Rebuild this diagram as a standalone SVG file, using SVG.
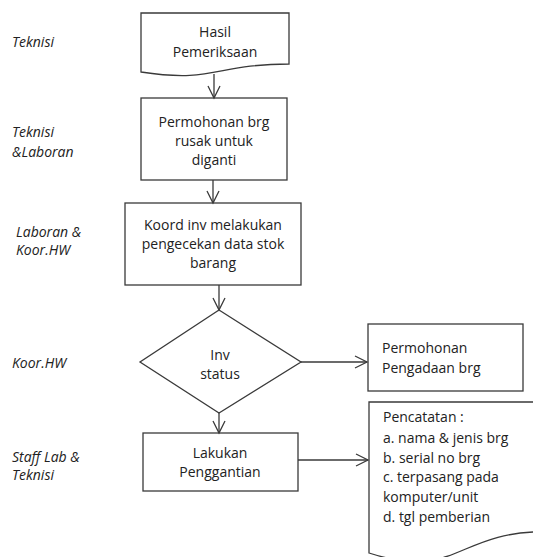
<svg xmlns="http://www.w3.org/2000/svg" width="533" height="557" viewBox="0 0 533 557">
  <defs>
    <marker id="arrow" markerUnits="userSpaceOnUse" markerWidth="16" markerHeight="16" refX="12" refY="6" orient="auto" overflow="visible">
      <path d="M0,0 L12,6 L0,12" fill="none" stroke="#3a3a3a" stroke-width="1.3"/>
    </marker>
  </defs>
  <style>
    .shape { fill: #ffffff; stroke: #3a3a3a; stroke-width: 1.3; }
    .link { fill: none; stroke: #3a3a3a; stroke-width: 1.3; marker-end: url(#arrow); }
    .t { font-family: "Open Sans", "Liberation Sans", sans-serif; font-size: 14px; fill: #222222; }
    .c { text-anchor: middle; }
    .role { font-family: "Open Sans", "Liberation Sans", sans-serif; font-size: 14px; font-style: italic; fill: #222222; }
  </style>
  <rect width="533" height="557" fill="#ffffff"/>

  <!-- role column -->
  <g id="roles">
    <text class="role" x="12" y="47">Teknisi</text>
    <text class="role" x="12" y="137">Teknisi</text>
    <text class="role" x="12" y="157">&amp;Laboran</text>
    <text class="role" x="16" y="237">Laboran &amp;</text>
    <text class="role" x="16" y="255">Koor.HW</text>
    <text class="role" x="12" y="368">Koor.HW</text>
    <text class="role" x="12" y="462">Staff Lab &amp;</text>
    <text class="role" x="12" y="480">Teknisi</text>
  </g>

  <g id="hasil">
    <path class="shape" d="M141,13 H289 V64 C215,64 215,83.4 141,72 Z"/>
    <text class="t c" x="215" y="37">Hasil</text>
    <text class="t c" x="215" y="57">Pemeriksaan</text>
  </g>

  <g id="permohonan-ganti">
    <rect class="shape" x="141" y="98" width="146" height="82"/>
    <text class="t c" x="214" y="127">Permohonan brg</text>
    <text class="t c" x="214" y="146">rusak untuk</text>
    <text class="t c" x="214" y="165">diganti</text>
  </g>

  <g id="cek-stok">
    <rect class="shape" x="125" y="203" width="176" height="82"/>
    <text class="t c" x="213" y="230">Koord inv melakukan</text>
    <text class="t c" x="213" y="249">pengecekan data stok</text>
    <text class="t c" x="213" y="268">barang</text>
  </g>

  <g id="inv-status">
    <path class="shape" d="M219,310 L301,362 L219,413 L140,362 Z"/>
    <text class="t c" x="220" y="360">Inv</text>
    <text class="t c" x="220" y="379">status</text>
  </g>

  <g id="pengadaan">
    <rect class="shape" x="368" y="324" width="155" height="67"/>
    <text class="t" x="382" y="353">Permohonan</text>
    <text class="t" x="382" y="373">Pengadaan brg</text>
  </g>

  <g id="penggantian">
    <rect class="shape" x="143" y="433" width="155" height="58"/>
    <text class="t c" x="220" y="458">Lakukan</text>
    <text class="t c" x="220" y="477">Penggantian</text>
  </g>

  <g id="pencatatan">
    <path class="shape" d="M369,402 H544 V531.7 C456.5,531.7 456.5,581 369,553 Z"/>
    <text class="t" x="383" y="422">Pencatatan :</text>
    <text class="t" x="383" y="443">a. nama &amp; jenis brg</text>
    <text class="t" x="383" y="463">b. serial no brg</text>
    <text class="t" x="383" y="482">c. terpasang pada</text>
    <text class="t" x="383" y="502">komputer/unit</text>
    <text class="t" x="383" y="522">d. tgl pemberian</text>
  </g>

  <g id="connectors">
    <path class="link" d="M214,74 V98"/>
    <path class="link" d="M213,180 V203"/>
    <path class="link" d="M219,285 V310"/>
    <path class="link" d="M219,413 V433"/>
    <path class="link" d="M301,362 H367"/>
    <path class="link" d="M298,460 H368"/>
  </g>
</svg>
